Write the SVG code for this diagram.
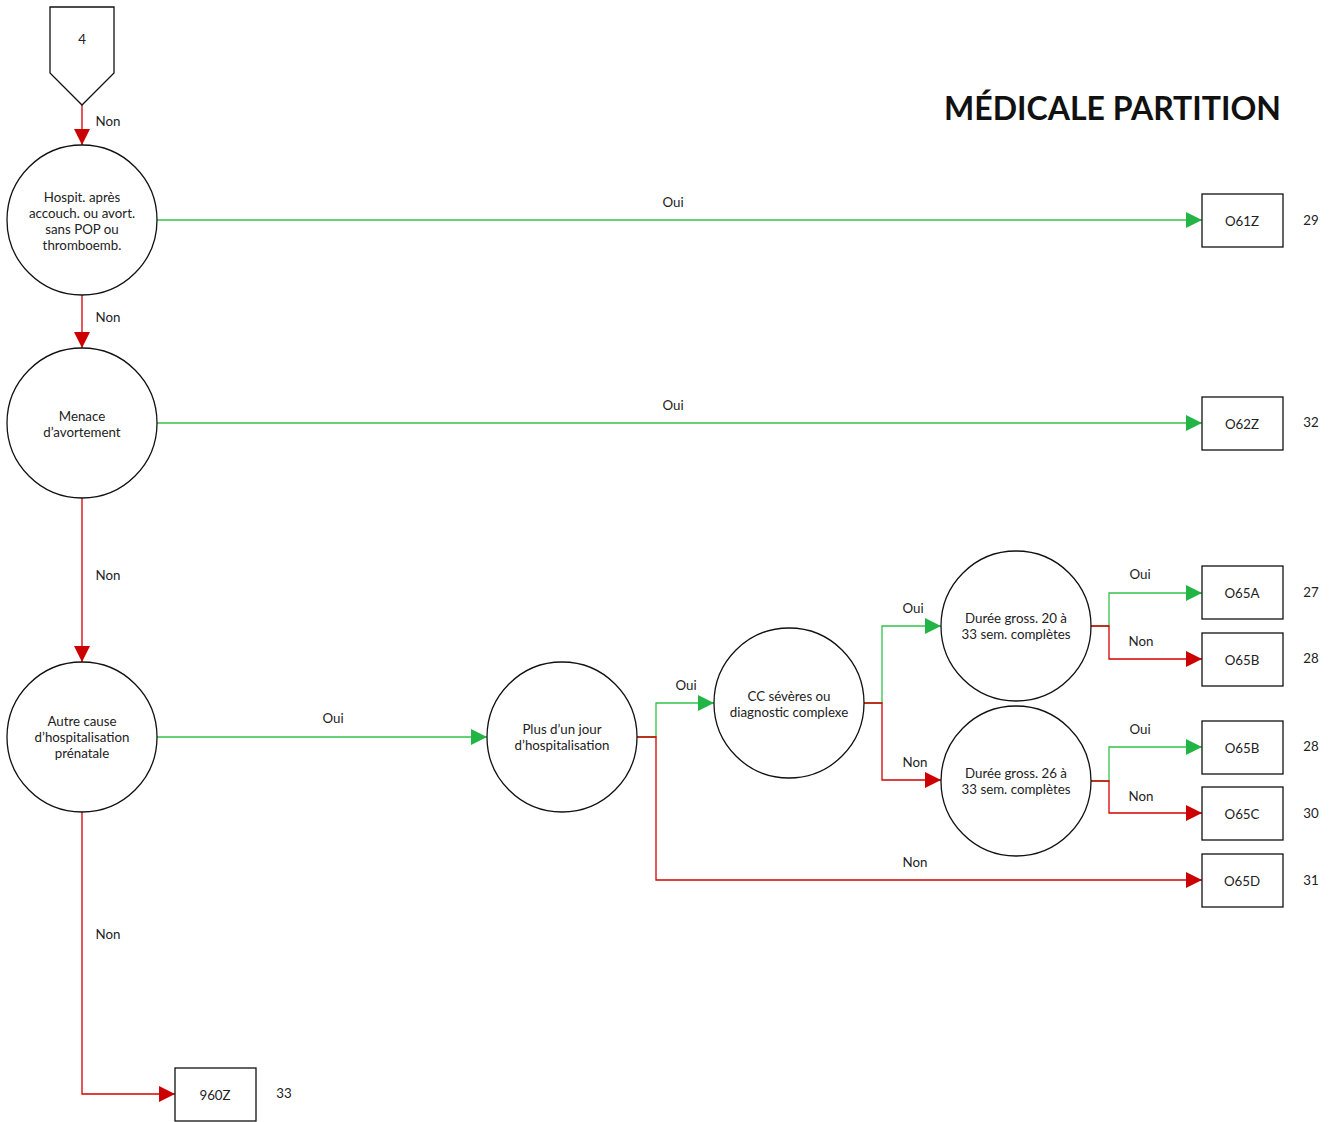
<svg xmlns="http://www.w3.org/2000/svg" width="1338" height="1122" viewBox="0 0 1338 1122">
<style>
text{font-family:Lato,"Open Sans","Liberation Sans",sans-serif;font-size:13.3px;fill:#222;text-anchor:middle;dominant-baseline:central}
.node{fill:#fff;stroke:#111;stroke-width:1.3}
.g{fill:none;stroke:#33C24A;stroke-width:1.3}
.r{fill:none;stroke:#D40000;stroke-width:1.3}
.title{font-size:32px;font-weight:bold;fill:#111;text-anchor:end}
.num{text-anchor:middle}
</style>
<defs>
<marker id="ag" viewBox="0 0 16 16" refX="16" refY="8" markerWidth="16" markerHeight="16" markerUnits="userSpaceOnUse" orient="auto"><path d="M0,0L16,8L0,16Z" fill="#22B545"/></marker>
<marker id="ar" viewBox="0 0 16 16" refX="16" refY="8" markerWidth="16" markerHeight="16" markerUnits="userSpaceOnUse" orient="auto"><path d="M0,0L16,8L0,16Z" fill="#CC0000"/></marker>
</defs>
<rect width="1338" height="1122" fill="#fff"/>
<text class="title" x="1281" y="107">MÉDICALE PARTITION</text>

<g id="connectors">
<path class="r" d="M82,105V145" marker-end="url(#ar)"/>
<text x="108" y="121">Non</text>
<path class="g" d="M157,220H1202" marker-end="url(#ag)"/>
<text x="673" y="202">Oui</text>
<path class="r" d="M82,295V348" marker-end="url(#ar)"/>
<text x="108" y="317">Non</text>
<path class="g" d="M157,423H1202" marker-end="url(#ag)"/>
<text x="673" y="405">Oui</text>
<path class="r" d="M82,498V662" marker-end="url(#ar)"/>
<text x="108" y="575">Non</text>
<path class="g" d="M157,737H487" marker-end="url(#ag)"/>
<text x="333" y="718">Oui</text>
<path class="r" d="M82,812V1094H175" marker-end="url(#ar)"/>
<text x="108" y="934">Non</text>
<path class="g" d="M637,737H656V703H714" marker-end="url(#ag)"/>
<text x="686" y="685">Oui</text>
<path class="r" d="M637,737H656V880H1202" marker-end="url(#ar)"/>
<text x="915" y="862">Non</text>
<path class="g" d="M864,703H882V626H941" marker-end="url(#ag)"/>
<text x="913" y="608">Oui</text>
<path class="r" d="M864,703H882V780H941" marker-end="url(#ar)"/>
<text x="915" y="762">Non</text>
<path class="g" d="M1091,626H1109V593H1202" marker-end="url(#ag)"/>
<text x="1140" y="574">Oui</text>
<path class="r" d="M1091,626H1109V659H1202" marker-end="url(#ar)"/>
<text x="1141" y="641">Non</text>
<path class="g" d="M1091,781H1109V747H1202" marker-end="url(#ag)"/>
<text x="1140" y="729">Oui</text>
<path class="r" d="M1091,781H1109V813H1202" marker-end="url(#ar)"/>
<text x="1141" y="796">Non</text>
</g>

<g id="start4"><path class="node" d="M50,7H114V73L82,105L50,73Z"/><text x="82" y="39">4</text></g>

<g id="q1"><circle class="node" cx="82" cy="220" r="75"/>
<text x="82" y="197">Hospit. après</text><text x="82" y="213">accouch. ou avort.</text><text x="82" y="229">sans POP ou</text><text x="82" y="245">thromboemb.</text></g>
<g id="q2"><circle class="node" cx="82" cy="423" r="75"/>
<text x="82" y="416">Menace</text><text x="82" y="432">d’avortement</text></g>
<g id="q3"><circle class="node" cx="82" cy="737" r="75"/>
<text x="82" y="721">Autre cause</text><text x="82" y="737">d’hospitalisation</text><text x="82" y="753">prénatale</text></g>
<g id="q4"><circle class="node" cx="562" cy="737" r="75"/>
<text x="562" y="729">Plus d’un jour</text><text x="562" y="745">d’hospitalisation</text></g>
<g id="q5"><circle class="node" cx="789" cy="703" r="75"/>
<text x="789" y="696">CC sévères ou</text><text x="789" y="712">diagnostic complexe</text></g>
<g id="q6"><circle class="node" cx="1016" cy="626" r="75"/>
<text x="1016" y="618">Durée gross. 20 à</text><text x="1016" y="634">33 sem. complètes</text></g>
<g id="q7"><circle class="node" cx="1016" cy="781" r="75"/>
<text x="1016" y="773">Durée gross. 26 à</text><text x="1016" y="789">33 sem. complètes</text></g>

<g id="o61z"><rect class="node" x="1202" y="194" width="81" height="53"/><text x="1242" y="221">O61Z</text><text class="num" x="1311" y="220">29</text></g>
<g id="o62z"><rect class="node" x="1202" y="397" width="81" height="53"/><text x="1242" y="424">O62Z</text><text class="num" x="1311" y="422">32</text></g>
<g id="o65a"><rect class="node" x="1202" y="566" width="81" height="53"/><text x="1242" y="593">O65A</text><text class="num" x="1311" y="592">27</text></g>
<g id="o65b1"><rect class="node" x="1202" y="633" width="81" height="53"/><text x="1242" y="660">O65B</text><text class="num" x="1311" y="658">28</text></g>
<g id="o65b2"><rect class="node" x="1202" y="721" width="81" height="53"/><text x="1242" y="748">O65B</text><text class="num" x="1311" y="746">28</text></g>
<g id="o65c"><rect class="node" x="1202" y="787" width="81" height="53"/><text x="1242" y="814">O65C</text><text class="num" x="1311" y="813">30</text></g>
<g id="o65d"><rect class="node" x="1202" y="854" width="81" height="53"/><text x="1242" y="881">O65D</text><text class="num" x="1311" y="880">31</text></g>
<g id="z960"><rect class="node" x="175" y="1068" width="81" height="53"/><text x="215" y="1095">960Z</text><text class="num" x="284" y="1093">33</text></g>
</svg>
